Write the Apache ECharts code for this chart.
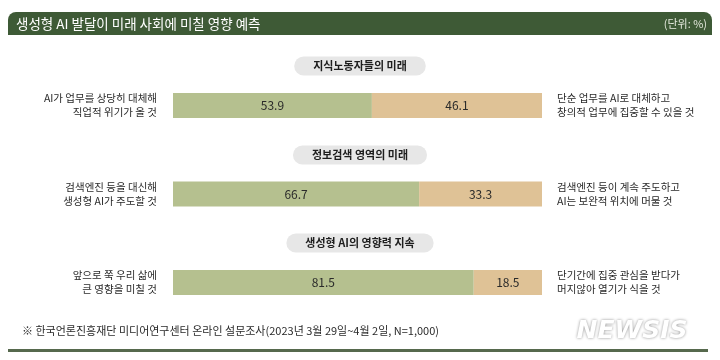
<!DOCTYPE html>
<html>
<head>
<meta charset="utf-8">
<script src="https://cdn.jsdelivr.net/npm/echarts@6/dist/echarts.min.js"></script>
<style>
html,body{margin:0;padding:0;background:#fff;}
#c{width:720px;height:360px;}
</style>
</head>
<body>
<div id="c"></div>
<script>
const title = '생성형 AI 발달이 미래 사회에 미칠 영향 예측';
const unitText = '(단위: %)';
const sections = ['지식노동자들의 미래', '정보검색 영역의 미래', '생성형 AI의 영향력 지속'];
const leftLabels = ['AI가 업무를 상당히 대체해\n직업적 위기가 올 것', '검색엔진 등을 대신해\n생성형 AI가 주도할 것', '앞으로 쭉 우리 삶에\n큰 영향을 미칠 것'];
const rightLabels = ['단순 업무를 AI로 대체하고\n창의적 업무에 집중할 수 있을 것', '검색엔진 등이 계속 주도하고\nAI는 보완적 위치에 머물 것', '단기간에 집중 관심을 받다가\n머지않아 열기가 식을 것'];
const valuesA = [53.9, 66.7, 81.5];
const valuesB = [46.1, 33.3, 18.5];
const source = '※ 한국언론진흥재단 미디어연구센터 온라인 설문조사(2023년 3월 29일~4월 2일, N=1,000)';

const FONT = '"Noto Sans CJK KR", "Noto Sans", sans-serif';
const chart = echarts.init(document.getElementById('c'));

const sectionY = [66, 155, 243];
const graphics = [
  { type: 'rect', shape: { x: 8, y: 12, width: 704, height: 23, r: [8, 8, 0, 0] }, style: { fill: '#3e5a36' } },
  { type: 'text', x: 16, y: 24, style: { text: title, fill: '#ffffff', font: '13.5px ' + FONT, verticalAlign: 'middle' } },
  { type: 'text', x: 707, y: 24, style: { text: unitText, fill: '#e3e8dc', font: '11px ' + FONT, align: 'right', verticalAlign: 'middle' } },
  { type: 'text', x: 22, y: 331, style: { text: source, fill: '#2a2a2a', font: '11px ' + FONT, verticalAlign: 'middle' } },
  { type: 'rect', shape: { x: 8, y: 349, width: 700, height: 3 }, style: { fill: '#56694d' } },
  { type: 'text', x: 632, y: 331, style: { text: 'NEWSIS', fill: '#ffffff', font: 'italic bold 25px "DejaVu Sans", sans-serif', align: 'center', verticalAlign: 'middle', textShadowColor: 'rgba(0,0,0,0.45)', textShadowBlur: 3, textShadowOffsetX: 0, textShadowOffsetY: 0 } }
];
sections.forEach((s, i) => {
  graphics.push({
    type: 'text', x: 360, y: sectionY[i],
    style: {
      text: s, fill: '#1e1e1e', font: 'bold 11px ' + FONT, align: 'center', verticalAlign: 'middle',
      backgroundColor: '#e7e7e7', padding: [4, 19, 4, 19], borderRadius: 10
    }
  });
});

chart.setOption({
  animation: false,
  textStyle: { fontFamily: FONT },
  grid: { left: 173, right: 178, top: 61.25, bottom: 33.25 },
  xAxis: { type: 'value', min: 0, max: 100, show: false },
  yAxis: [
    {
      type: 'category', data: leftLabels, inverse: true, position: 'left',
      axisLine: { show: false }, axisTick: { show: false }, splitLine: { show: false },
      axisLabel: { color: '#2a2a2a', fontSize: 10.5, lineHeight: 14, margin: 16, align: 'right' }
    },
    {
      type: 'category', data: rightLabels, inverse: true, position: 'right',
      axisLine: { show: false }, axisTick: { show: false }, splitLine: { show: false },
      axisLabel: { color: '#2a2a2a', fontSize: 10.5, lineHeight: 14, margin: 15, align: 'left' }
    }
  ],
  series: [
    {
      type: 'bar', stack: 'a', data: valuesA, barWidth: 25, yAxisIndex: 0,
      itemStyle: { color: '#b5c08f' },
      label: { show: true, position: 'inside', color: '#2a2a2a', fontSize: 12, formatter: p => p.value.toFixed(1) }
    },
    {
      type: 'bar', stack: 'a', data: valuesB, barWidth: 25, yAxisIndex: 0,
      itemStyle: { color: '#dfc296' },
      label: { show: true, position: 'inside', color: '#2a2a2a', fontSize: 12, formatter: p => p.value.toFixed(1) }
    }
  ],
  graphic: graphics
});
</script>
</body>
</html>
